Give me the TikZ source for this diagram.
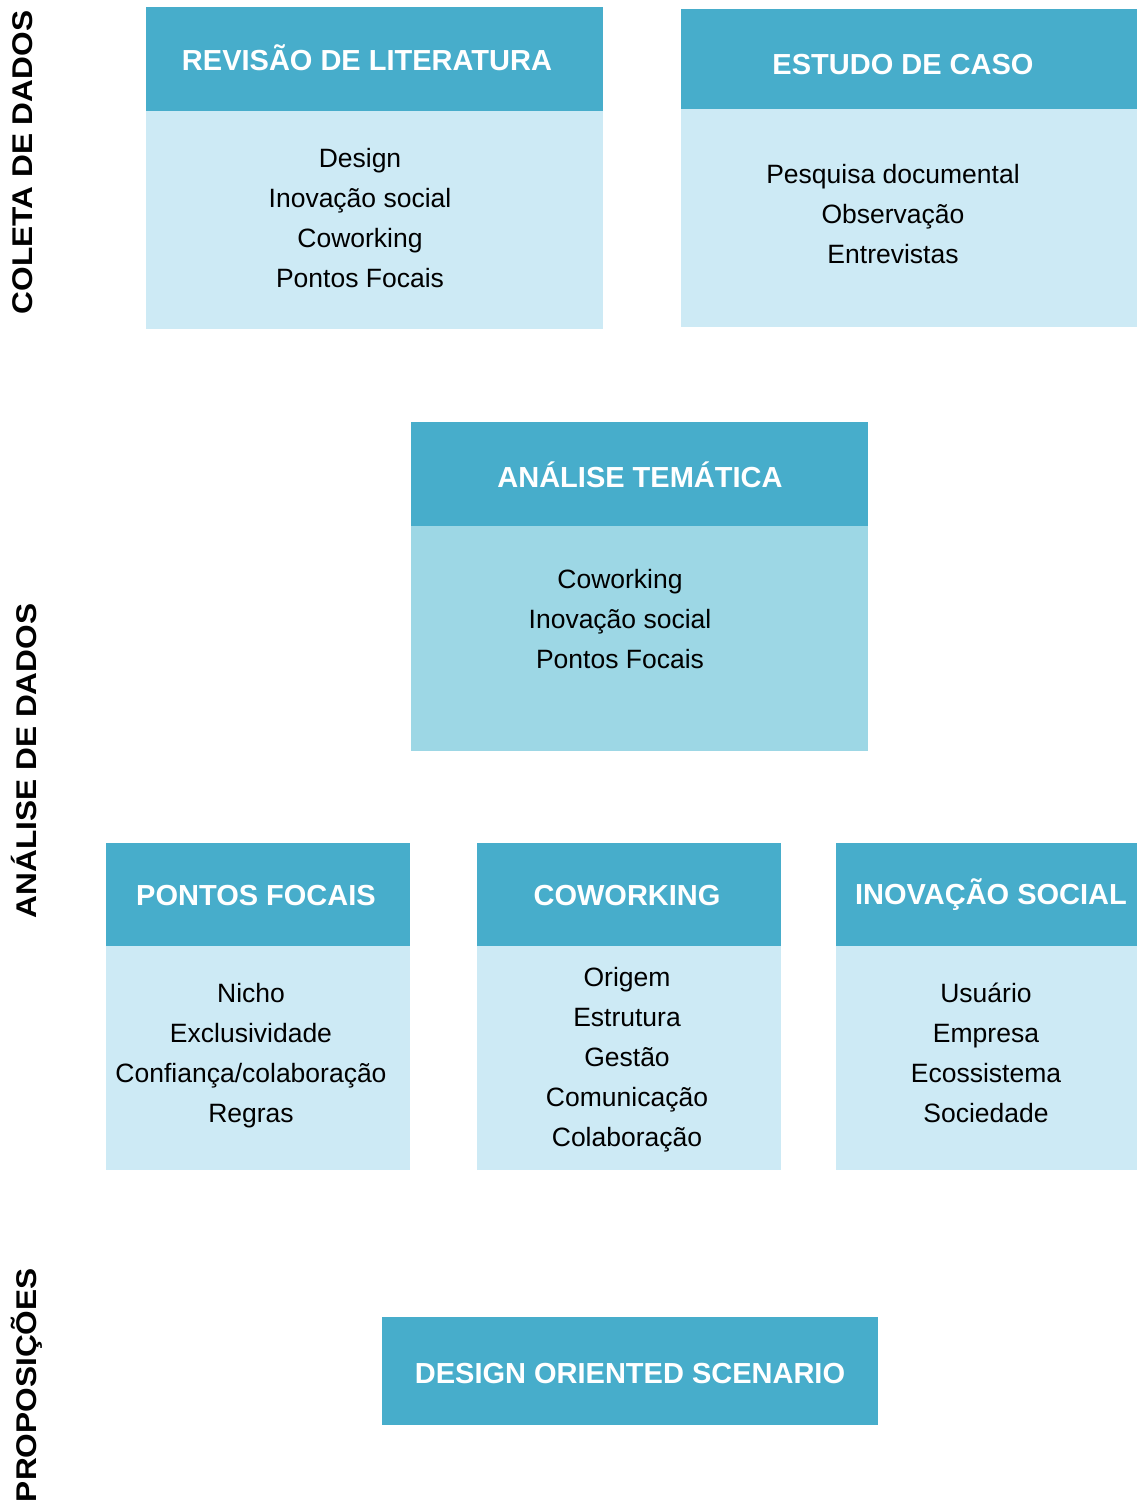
\documentclass[tikz,border=0pt]{standalone}
\usepackage{fontspec}
\setmainfont{Liberation Sans}
\definecolor{headblue}{RGB}{71,173,203}
\definecolor{bodyblue}{RGB}{205,234,245}
\definecolor{midblue}{RGB}{157,215,229}
\newcommand{\stagetext}[1]{\scalebox{1.11}[1]{#1}}
\begin{document}
\begin{tikzpicture}[x=1pt,y=-1pt,
  panel/.style={draw=none,inner sep=0pt,outer sep=0pt,anchor=north west},
  headbox/.style={panel,fill=headblue},
  bodybox/.style={panel,fill=bodyblue},
  midbox/.style={panel,fill=midblue},
  title/.style={anchor=base,inner sep=0pt,text=white,font=\fontsize{29}{35}\selectfont\bfseries},
  item/.style={anchor=base,inner sep=0pt,text=black,font=\fontsize{26.5}{40}\selectfont},
  stage/.style={anchor=base,rotate=90,inner sep=0pt,text=black,font=\fontsize{28.5}{34}\selectfont\bfseries}]
\useasboundingbox (0,0) rectangle (1137,1501);

% stage labels along the left margin
\node[stage] (s1) at (32,162.5) {\stagetext{COLETA DE DADOS}};
\node[stage] (s2) at (36,761) {\stagetext{ANÁLISE DE DADOS}};
\node[stage,anchor=base east] (s3) at (36,1268) {\stagetext{PROPOSIÇÕES}};

% data collection
\node[headbox,minimum width=457pt,minimum height=104pt] (revh) at (146,7) {};
\node[bodybox,minimum width=457pt,minimum height=218pt] (revb) at (146,111) {};
\node[title] (revt) at (367,71) {REVISÃO DE LITERATURA};
\foreach \t [count=\i] in {Design,Inovação social,Coworking,Pontos Focais}
  \node[item] (rev-\i) at (360,{167.5+40*(\i-1)}) {\t};

\node[headbox,minimum width=456pt,minimum height=100pt] (esth) at (681,9) {};
\node[bodybox,minimum width=456pt,minimum height=218pt] (estb) at (681,109) {};
\node[title] (estt) at (903,74.5) {ESTUDO DE CASO};
\foreach \t [count=\i] in {Pesquisa documental,Observação,Entrevistas}
  \node[item] (est-\i) at (893,{183.5+40*(\i-1)}) {\t};

% thematic analysis
\node[headbox,minimum width=457pt,minimum height=104pt] (anah) at (411,422) {};
\node[midbox,minimum width=457pt,minimum height=225pt] (anab) at (411,526) {};
\node[title] (anat) at (640,487) {ANÁLISE TEMÁTICA};
\foreach \t [count=\i] in {Coworking,Inovação social,Pontos Focais}
  \node[item] (ana-\i) at (620,{588.5+40*(\i-1)}) {\t};

% themes
\node[headbox,minimum width=304pt,minimum height=103pt] (pfh) at (106,843) {};
\node[bodybox,minimum width=304pt,minimum height=224pt] (pfb) at (106,946) {};
\node[title] (pft) at (256,905.5) {PONTOS FOCAIS};
\foreach \t [count=\i] in {Nicho,Exclusividade,Confiança/colaboração,Regras}
  \node[item] (pf-\i) at (251,{1002.5+40*(\i-1)}) {\t};

\node[headbox,minimum width=304pt,minimum height=103pt] (cwh) at (477,843) {};
\node[bodybox,minimum width=304pt,minimum height=224pt] (cwb) at (477,946) {};
\node[title] (cwt) at (627,905.5) {COWORKING};
\foreach \t [count=\i] in {Origem,Estrutura,Gestão,Comunicação,Colaboração}
  \node[item] (cw-\i) at (627,{986.5+40*(\i-1)}) {\t};

\node[headbox,minimum width=301pt,minimum height=103pt] (ish) at (836,843) {};
\node[bodybox,minimum width=301pt,minimum height=224pt] (isb) at (836,946) {};
\node[title] (ist) at (991,904) {INOVAÇÃO SOCIAL};
\foreach \t [count=\i] in {Usuário,Empresa,Ecossistema,Sociedade}
  \node[item] (is-\i) at (986,{1002.5+40*(\i-1)}) {\t};

% proposition
\node[headbox,minimum width=496pt,minimum height=108pt] (dos) at (382,1317) {};
\node[title] (dost) at (630,1383) {DESIGN ORIENTED SCENARIO};
\end{tikzpicture}
\end{document}
